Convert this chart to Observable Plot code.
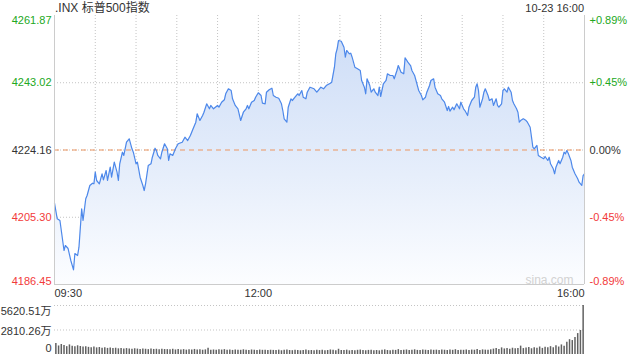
<!DOCTYPE html>
<html><head><meta charset="utf-8">
<script src="https://cdn.jsdelivr.net/npm/d3@7"></script>
<script src="https://cdn.jsdelivr.net/npm/@observablehq/plot@0.6"></script>
<style>
body{margin:0;background:#fff;}
#wrap{position:relative;width:640px;height:360px;font-family:"Liberation Sans",Arial,"Noto Sans CJK SC",sans-serif;color:#333;}
#title{position:absolute;left:55px;top:1px;font-size:12px;line-height:14px;}
#stamp{position:absolute;right:56px;top:1px;font-size:11px;line-height:14px;}
#p1{position:absolute;left:0;top:0;}
#p2{position:absolute;left:0;top:300px;}
</style></head>
<body>
<div id="wrap">
  <div id="p1"></div>
  <div id="p2"></div>
  <div id="title"></div>
  <div id="stamp"></div>
</div>
<script>
const titleText = ".INX 标普500指数";
const stampText = "10-23 16:00";
const watermark = "sina.com";
const prevClose = 4224.16;
const priceTicks = [4261.87, 4243.02, 4224.16, 4205.30, 4186.45];
const pctLabels = ["+0.89%", "+0.45%", "0.00%", "-0.45%", "-0.89%"];
const xTickMinutes = [0, 150, 390];
const xTickLabels = ["09:30", "12:00", "16:00"];
const volTicks = [5620.51, 2810.26, 0];
const volTickLabels = ["5620.51万", "2810.26万", "0"];

// minutes since 09:30
const minutes = [
  0,2,4,6,7,8,10,12,14,15,
  17,18,20,21,23,24,26,28,29,30,
  31,33,35,36,38,39,41,42,44,46,
  47,48,50,51,53,55,57,58,60,61,
  63,65,66,67,69,71,72,74,75,76,
  78,79,81,83,84,85,87,89,91,94,
  96,98,100,102,104,105,107,109,110,112,
  114,115,117,120,121,123,125,126,128,130,
  131,133,135,137,139,141,142,143,145,147,
  148,150,152,153,155,156,158,160,161,163,
  165,167,168,169,171,172,174,175,177,179,
  180,182,183,185,186,188,191,193,194,196,
  198,200,203,204,206,207,208,209,211,213,
  214,215,217,218,219,221,223,225,226,228,
  229,230,232,233,235,236,238,239,240,242,
  244,245,247,249,250,252,253,255,257,258,
  260,261,262,263,265,266,268,270,271,273,
  274,276,277,279,280,282,284,285,287,289,
  290,291,293,294,296,298,299,301,302,304,
  305,307,309,310,311,312,313,315,316,317,
  319,320,322,323,325,326,327,329,330,331,
  333,334,336,337,338,340,341,342,343,345,
  347,348,350,351,352,353,355,356,358,360,
  361,363,364,365,367,368,369,371,372,374,
  375,376,377,378,380,381,383,385,386,388,
  389,390
];
const prices = [
  4209.24,4204.87,4204.39,4198.79,4195.98,4197.38,4196.54,4193.18,4190.57,4195.14,
  4194.58,4196.91,4207.67,4204.39,4210.48,4211.40,4214.21,4214.85,4214.68,4217.94,
  4215.61,4214.68,4217.49,4215.80,4218.41,4215.61,4219.34,4216.53,4220.74,4217.94,
  4215.61,4220.29,4223.54,4222.62,4226.35,4227.30,4224.50,4223.54,4220.29,4220.74,
  4216.53,4214.21,4212.80,4214.68,4219.81,4220.29,4222.14,4224.66,4224.02,4222.62,
  4221.69,4223.54,4225.90,4224.50,4221.22,4223.09,4222.62,4224.50,4225.90,4226.35,
  4227.75,4226.82,4228.23,4230.10,4231.95,4234.31,4232.43,4233.83,4234.76,4237.11,
  4235.71,4236.64,4235.71,4236.64,4236.16,4237.56,4238.23,4239.92,4241.32,4240.84,
  4238.51,4236.64,4235.71,4232.43,4234.76,4235.71,4236.64,4235.71,4237.56,4238.04,
  4238.96,4240.20,4239.44,4237.28,4237.11,4240.37,4241.04,4241.49,4239.44,4238.96,
  4238.68,4237.11,4235.23,4232.91,4231.95,4236.16,4238.51,4238.04,4238.96,4239.92,
  4239.44,4240.84,4238.96,4238.51,4240.37,4241.77,4241.32,4240.37,4240.84,4241.77,
  4241.32,4242.24,4242.89,4243.17,4247.37,4251.13,4252.53,4254.86,4254.66,4252.98,
  4250.18,4252.06,4251.13,4251.30,4250.18,4247.37,4246.93,4246.45,4243.65,4241.77,
  4239.92,4244.12,4242.24,4240.37,4241.32,4240.37,4239.44,4241.77,4239.16,4242.72,
  4243.65,4245.52,4245.05,4245.05,4244.12,4246.45,4247.85,4245.97,4245.52,4250.01,
  4248.78,4248.33,4247.85,4246.45,4245.05,4243.65,4240.84,4239.44,4238.23,4238.96,
  4240.37,4242.24,4243.65,4244.12,4241.77,4239.92,4239.44,4238.51,4237.56,4235.23,
  4236.36,4235.04,4236.16,4235.43,4237.11,4235.71,4237.56,4235.71,4235.23,4233.83,
  4236.16,4238.04,4238.96,4241.77,4242.72,4240.84,4236.16,4238.51,4240.37,4241.32,
  4239.44,4238.04,4238.51,4236.64,4238.51,4236.64,4236.16,4237.11,4240.84,4241.32,
  4240.37,4241.77,4240.37,4238.04,4237.11,4235.71,4234.76,4231.95,4232.43,4232.91,
  4232.43,4231.95,4230.55,4227.75,4224.94,4224.50,4225.42,4222.62,4222.14,4221.69,
  4222.34,4221.22,4222.14,4220.29,4218.89,4217.49,4219.34,4221.22,4220.29,4222.14,
  4223.54,4223.09,4224.02,4223.26,4221.22,4219.34,4217.49,4216.08,4215.13,4214.21,
  4217.01,4217.49
];
// volume (万) per 2-minute bar
const volumes = [
  1250,980,1150,1020,900,1100,950,880,1000,920,
  850,900,820,780,850,760,800,720,780,700,
  740,680,720,650,700,620,680,640,600,660,
  620,580,640,600,560,620,580,600,550,610,
  570,560,540,600,520,570,530,560,500,550,
  520,580,510,540,490,530,720,500,520,480,
  540,510,560,490,520,470,530,500,480,540,
  500,460,520,490,470,510,480,500,460,490,
  470,450,500,430,480,520,460,440,490,450,
  430,470,510,440,460,420,480,450,500,430,
  460,520,480,440,600,470,450,500,420,460,
  440,480,510,450,430,470,490,440,460,420,
  480,530,460,440,500,470,560,450,480,520,
  460,500,540,470,450,520,490,460,510,480,
  500,470,530,490,460,520,480,550,470,500,
  480,520,460,510,490,560,470,530,500,480,
  540,620,700,580,760,640,680,600,720,650,
  700,960,680,740,800,660,780,720,860,700,
  820,760,900,780,1000,860,1100,940,1400,1700,
  1600,1950,2400,2750,5620.51
];

document.getElementById("title").textContent = titleText;
document.getElementById("stamp").textContent = stampText;

const series = minutes.map((t, i) => ({t, p: prices[i]}));
const volData = volumes.map((v, i) => ({t: i * 2 + 1, v}));
const gridMinutes = d3.range(30, 390, 30);
const yLow = priceTicks[4], yHigh = priceTicks[0];
const GREEN = "#22a822", RED = "#f23a3a", DARK = "#333333";
const tickColor = v => v > prevClose ? GREEN : v < prevClose ? RED : DARK;
const pct = v => pctLabels[priceTicks.indexOf(v)];
const FONT = '"Liberation Sans", Arial, "Noto Sans CJK SC", sans-serif';

const defs = () => {
  const s = d3.create("svg:defs");
  const g = s.append("linearGradient").attr("id", "areaGrad")
    .attr("x1", 0).attr("y1", 0).attr("x2", 0).attr("y2", 1);
  g.append("stop").attr("offset", "0%").attr("stop-color", "#cfdef7");
  g.append("stop").attr("offset", "55%").attr("stop-color", "#e6eefb");
  g.append("stop").attr("offset", "100%").attr("stop-color", "#fcfdff");
  return s.node();
};

const leftLabel = (vals, opts) => Plot.text(vals, {y: d => d, text: d => d.toFixed(2), fill: d => tickColor(d),
  frameAnchor: "left", textAnchor: "end", dx: -3, fontSize: 11, ...opts});
const rightLabel = (vals, opts) => Plot.text(vals, {y: d => d, text: d => pct(d), fill: d => tickColor(d),
  frameAnchor: "right", textAnchor: "start", dx: 5, fontSize: 11, ...opts});

const p1 = Plot.plot({
  width: 640, height: 300,
  marginLeft: 54, marginRight: 56, marginTop: 15, marginBottom: 16,
  x: {domain: [0, 390], axis: null},
  y: {domain: [yLow, yHigh], axis: null},
  color: {type: "identity"},
  style: {fontFamily: FONT, fontSize: "11px", background: "transparent", overflow: "visible"},
  marks: [
    defs,
    Plot.ruleX(gridMinutes, {stroke: "#c4c4c4", strokeDasharray: "1,2"}),
    Plot.ruleY([priceTicks[1], priceTicks[2], priceTicks[3]], {stroke: "#c4c4c4", strokeDasharray: "1,2"}),
    Plot.areaY(series, {x: "t", y1: () => yLow, y2: "p", fill: "url(#areaGrad)"}),
    Plot.ruleY([prevClose], {stroke: "#ec9560", strokeDasharray: "5,4"}),
    Plot.lineY(series, {x: "t", y: "p", stroke: "#4d88ea", strokeWidth: 1.2}),
    Plot.ruleX([0, 390], {stroke: "#cccccc"}),
    Plot.ruleY([yLow], {stroke: "#cccccc"}),
    leftLabel([priceTicks[0]], {lineAnchor: "top", dy: 1}),
    leftLabel(priceTicks.slice(1, 4), {lineAnchor: "middle"}),
    leftLabel([priceTicks[4]], {lineAnchor: "bottom", dy: 0}),
    rightLabel([priceTicks[0]], {lineAnchor: "top", dy: 1}),
    rightLabel(priceTicks.slice(1, 4), {lineAnchor: "middle"}),
    rightLabel([priceTicks[4]], {lineAnchor: "bottom", dy: 0}),
    Plot.text([0], {x: d => xTickMinutes[d], text: d => xTickLabels[d], frameAnchor: "bottom", lineAnchor: "middle", dy: 9, textAnchor: "start", fill: DARK, fontSize: 11}),
    Plot.text([1], {x: d => xTickMinutes[d], text: d => xTickLabels[d], frameAnchor: "bottom", lineAnchor: "middle", dy: 9, textAnchor: "middle", fill: DARK, fontSize: 11}),
    Plot.text([2], {x: d => xTickMinutes[d], text: d => xTickLabels[d], frameAnchor: "bottom", lineAnchor: "middle", dy: 9, textAnchor: "end", fill: DARK, fontSize: 11}),
    Plot.text([watermark], {text: d => d, frameAnchor: "bottom-right", textAnchor: "end", lineAnchor: "bottom", dx: -11, dy: -1, fill: "#d2d2d2", fontSize: 12})
  ]
});
document.getElementById("p1").appendChild(p1);

const p2 = Plot.plot({
  width: 640, height: 60,
  marginLeft: 54, marginRight: 56, marginTop: 5, marginBottom: 6,
  x: {domain: [0, 390], axis: null},
  y: {domain: [0, volTicks[0]], axis: null},
  style: {fontFamily: FONT, fontSize: "11px", background: "transparent", overflow: "visible"},
  marks: [
    Plot.ruleY([volTicks[0], volTicks[1]], {stroke: "#c4c4c4", strokeDasharray: "1,2"}),
    Plot.ruleX(volData, {x: "t", y1: 0, y2: "v", stroke: "#616161", strokeWidth: 1.5}),
    Plot.text([0], {y: d => volTicks[d], text: d => volTickLabels[d], frameAnchor: "left", textAnchor: "end", lineAnchor: "top", dx: -3, dy: 2, fill: DARK, fontSize: 11}),
    Plot.text([1], {y: d => volTicks[d], text: d => volTickLabels[d], frameAnchor: "left", textAnchor: "end", lineAnchor: "middle", dx: -3, dy: 1, fill: DARK, fontSize: 11}),
    Plot.text([2], {y: d => volTicks[d], text: d => volTickLabels[d], frameAnchor: "left", textAnchor: "end", lineAnchor: "bottom", dx: -3, dy: -3, fill: DARK, fontSize: 11})
  ]
});
document.getElementById("p2").appendChild(p2);
</script>
</body></html>
